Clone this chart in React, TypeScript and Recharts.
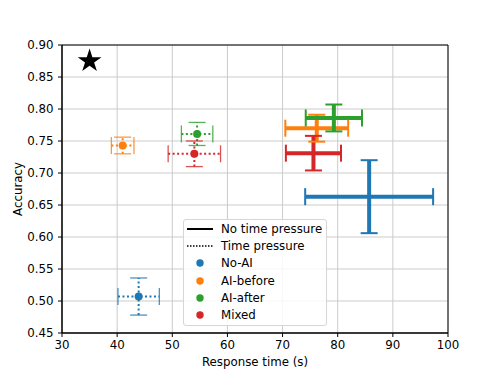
import { ScatterChart, Scatter, XAxis, YAxis, CartesianGrid, ErrorBar, ReferenceArea } from "recharts"

const groups = ["No-AI", "AI-before", "AI-after", "Mixed"]
const groupColors = ["#1f77b4", "#ff7f0e", "#2ca02c", "#d62728"]

// no time pressure
const calmTime = [85.7, 76.2, 79.3, 75.6]
const calmTimeErr = [11.6, 5.7, 5.1, 5.0]
const calmAcc = [0.663, 0.77, 0.786, 0.731]
const calmAccErr = [0.057, 0.021, 0.021, 0.027]

// time pressure
const rushTime = [43.9, 41.0, 54.5, 54.0]
const rushTimeErr = [3.75, 2.05, 2.85, 4.75]
const rushAcc = [0.507, 0.743, 0.761, 0.73]
const rushAccErr = [0.029, 0.013, 0.018, 0.02]

const starTime = [35]
const starAcc = [0.875]

const xTicks = [30, 40, 50, 60, 70, 80, 90, 100]
const yTicks = [0.45, 0.5, 0.55, 0.6, 0.65, 0.7, 0.75, 0.8, 0.85, 0.9]

const font = "DejaVu Sans"
const fs = 11.8

const Star = (props: any) => {
  const { cx, cy } = props
  const R = 12.5
  const r = R * 0.382
  const pts: string[] = []
  for (let k = 0; k < 10; k++) {
    const a = -Math.PI / 2 + (k * Math.PI) / 5
    const rad = k % 2 === 0 ? R : r
    pts.push(`${cx + rad * Math.cos(a)},${cy + rad * Math.sin(a)}`)
  }
  return <polygon points={pts.join(" ")} fill="#000" />
}

const Dot = (color: string) => (props: any) => <circle cx={props.cx} cy={props.cy} r={4} fill={color} />

const HCap = (color: string, w: number, op: number) => (props: any) => (
  <line x1={props.cx - 8.5} x2={props.cx + 8.5} y1={props.cy} y2={props.cy} stroke={color} strokeWidth={w} strokeOpacity={op} />
)
const VCap = (color: string, w: number, op: number) => (props: any) => (
  <line x1={props.cx} x2={props.cx} y1={props.cy - 8.5} y2={props.cy + 8.5} stroke={color} strokeWidth={w} strokeOpacity={op} />
)

const legendRows = [
  { label: "No time pressure", kind: "solid" },
  { label: "Time pressure", kind: "dotted" },
  ...groups.map((g, i) => ({ label: g, kind: groupColors[i] })),
]

export default function App() {
  const calmSeries = groups.flatMap((g, i) => [
    <Scatter
      key={"calm" + g}
      data={[{ x: calmTime[i], y: calmAcc[i], ex: calmTimeErr[i], ey: calmAccErr[i] }]}
      shape={() => <g />}
      isAnimationActive={false}
    >
      <ErrorBar dataKey="ex" direction="x" width={0} stroke={groupColors[i]} strokeWidth={4} isAnimationActive={false} />
      <ErrorBar dataKey="ey" direction="y" width={0} stroke={groupColors[i]} strokeWidth={4} isAnimationActive={false} />
    </Scatter>,
    <Scatter
      key={"calmh" + g}
      data={[
        { x: calmTime[i], y: calmAcc[i] + calmAccErr[i] },
        { x: calmTime[i], y: calmAcc[i] - calmAccErr[i] },
      ]}
      shape={HCap(groupColors[i], 2, 1)}
      isAnimationActive={false}
    />,
    <Scatter
      key={"calmv" + g}
      data={[
        { x: calmTime[i] - calmTimeErr[i], y: calmAcc[i] },
        { x: calmTime[i] + calmTimeErr[i], y: calmAcc[i] },
      ]}
      shape={VCap(groupColors[i], 2, 1)}
      isAnimationActive={false}
    />,
  ])

  const rushSeries = groups.flatMap((g, i) => [
    <Scatter
      key={"rushh" + g}
      data={[
        { x: rushTime[i], y: rushAcc[i] + rushAccErr[i] },
        { x: rushTime[i], y: rushAcc[i] - rushAccErr[i] },
      ]}
      shape={HCap(groupColors[i], 1.3, 0.8)}
      isAnimationActive={false}
    />,
    <Scatter
      key={"rushv" + g}
      data={[
        { x: rushTime[i] - rushTimeErr[i], y: rushAcc[i] },
        { x: rushTime[i] + rushTimeErr[i], y: rushAcc[i] },
      ]}
      shape={VCap(groupColors[i], 1.3, 0.8)}
      isAnimationActive={false}
    />,
    <Scatter
      key={"rush" + g}
      data={[{ x: rushTime[i], y: rushAcc[i], ex: rushTimeErr[i], ey: rushAccErr[i] }]}
      shape={Dot(groupColors[i])}
      isAnimationActive={false}
    >
      <ErrorBar dataKey="ex" direction="x" width={0} stroke={groupColors[i]} strokeWidth={2} strokeDasharray="2 2.5" isAnimationActive={false} />
      <ErrorBar dataKey="ey" direction="y" width={0} stroke={groupColors[i]} strokeWidth={2} strokeDasharray="2 2.5" isAnimationActive={false} />
    </Scatter>,
  ])

  return (
    <div style={{ position: "absolute", left: 0, top: 0, width: 498, height: 374, background: "#fff" }}>
      <ScatterChart width={498} height={374} margin={{ top: 45, right: 50, bottom: 0, left: 0 }}>
        <CartesianGrid stroke="#cbcbcb" strokeWidth={1} horizontalValues={yTicks} verticalValues={xTicks} />
        <XAxis
          type="number"
          dataKey="x"
          domain={[30, 100]}
          ticks={xTicks}
          height={41}
          tickSize={4}
          tickMargin={3.5}
          stroke="#000"
          tick={{ fill: "#000", fontSize: fs, fontFamily: font }}
          label={{ value: "Response time (s)", position: "center", dy: 8, fill: "#000", fontSize: fs, fontFamily: font }}
          allowDataOverflow
        />
        <YAxis
          type="number"
          dataKey="y"
          domain={[0.45, 0.9]}
          ticks={yTicks}
          width={62}
          tickSize={4}
          tickMargin={4.5}
          stroke="#000"
          tickFormatter={(v: number) => v.toFixed(2)}
          tick={{ fill: "#000", fontSize: fs, fontFamily: font }}
          label={{ value: "Accuracy", angle: -90, position: "center", dx: -13.5, fill: "#000", fontSize: fs, fontFamily: font }}
          allowDataOverflow
        />
        {calmSeries}
        {rushSeries}
        <Scatter
          data={starTime.map((t, i) => ({ x: t, y: starAcc[i] }))}
          shape={Star}
          isAnimationActive={false}
        />
        <ReferenceArea x1={30} x2={100} y1={0.45} y2={0.9} fill="none" stroke="#000" strokeWidth={1} ifOverflow="visible" />
      </ScatterChart>
      <div
        style={{
          position: "absolute",
          left: 183,
          top: 219,
          width: 144,
          height: 107,
          border: "1px solid #d6d6d6",
          borderRadius: 3,
          background: "rgba(255,255,255,0.85)",
          fontFamily: font,
          fontSize: fs,
          color: "#000",
          boxSizing: "border-box",
        }}
      >
        {legendRows.map((row) => (
          <div key={row.label} style={{ display: "flex", alignItems: "center", height: 17.3, whiteSpace: "nowrap" }}>
            <svg width={37} height={12} style={{ flex: "none" }}>
              {row.kind === "solid" && <line x1={3} x2={29} y1={6} y2={6} stroke="#000" strokeWidth={2} />}
              {row.kind === "dotted" && <line x1={3} x2={29} y1={6} y2={6} stroke="#000" strokeWidth={1.5} strokeDasharray="1.5 1.5" />}
              {row.kind !== "solid" && row.kind !== "dotted" && <circle cx={16} cy={6} r={3.7} fill={row.kind} />}
            </svg>
            <span>{row.label}</span>
          </div>
        ))}
      </div>
    </div>
  )
}
